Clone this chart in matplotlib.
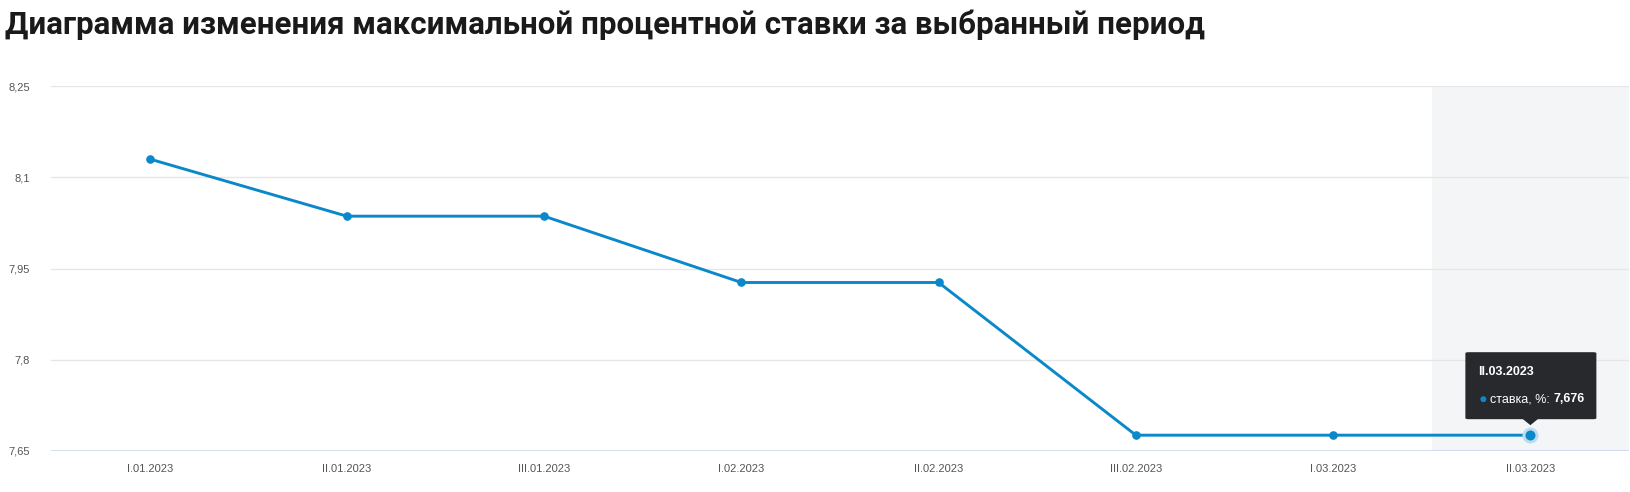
import matplotlib
matplotlib.use("Agg")
import matplotlib.pyplot as plt
from matplotlib.patches import FancyBboxPatch, Polygon, Circle

categories = ["I.01.2023", "II.01.2023", "III.01.2023", "I.02.2023",
              "II.02.2023", "III.02.2023", "I.03.2023", "II.03.2023"]
rates = [8.13, 8.036, 8.036, 7.927, 7.927, 7.676, 7.676, 7.676]
y_ticks = [7.65, 7.8, 7.95, 8.1, 8.25]
y_tick_labels = ["7,65", "7,8", "7,95", "8,1", "8,25"]
title = "Диаграмма изменения максимальной процентной ставки за выбранный период"
series_name = "ставка, %"
hover_index = 7

W, H = 1630, 492
DPI = 100
plt.rcParams['font.family'] = ['Liberation Sans', 'DejaVu Sans']
fig = plt.figure(figsize=(W / DPI, H / DPI), dpi=DPI)
fig.patch.set_facecolor('white')

ax = fig.add_axes([51 / W, (H - 451) / H, (1629 - 51) / W, (451 - 86) / H])
ax.set_facecolor('white')
x = list(range(len(categories)))
ax.set_xlim(-0.5, len(categories) - 0.5)
ax.set_ylim(7.65, 8.25)

line_color = '#0b88c9'
ax.axvspan(hover_index - 0.5, hover_index + 0.5, color='#f4f5f6', zorder=0, lw=0)
for yt in y_ticks[1:]:
    ax.axhline(yt, color='#e6e6e6', lw=1, zorder=1)
ax.axhline(y_ticks[0], color='#ccd6eb', lw=1.2, zorder=1)

ax.plot(x, rates, color=line_color, lw=2.1, marker='o', ms=5.2, zorder=3,
        solid_capstyle='round')
ax.plot([x[hover_index]], [rates[hover_index]], marker='o', ms=11.5,
        mfc='#b9ddf1', mec='none', zorder=4, ls='none')
ax.plot([x[hover_index]], [rates[hover_index]], marker='o', ms=7.2,
        mfc=line_color, mec='none', zorder=5, ls='none')

for s in ax.spines.values():
    s.set_visible(False)
ax.set_yticks(y_ticks)
ax.set_yticklabels(y_tick_labels)
ax.set_xticks(x)
ax.set_xticklabels(categories)
ax.tick_params(axis='both', length=0, labelsize=8, labelcolor='#555555')
ax.tick_params(axis='y', pad=15)
ax.tick_params(axis='x', pad=9)

fig.text(5 / W, 1 - 25 / H, title, fontsize=22.5, fontweight='bold',
         color='#1a1a1a', va='center', ha='left', family=['Roboto', 'DejaVu Sans'])

# tooltip
px, py = ax.transData.transform((x[hover_index], rates[hover_index]))
def fx(v):
    return v / W
def fy(v):
    return v / H
box = FancyBboxPatch((fx(px - 65), fy(py + 16)), fx(131), fy(67),
                     boxstyle="round,pad=0,rounding_size=0.002",
                     transform=fig.transFigure, facecolor='#27292d',
                     edgecolor='none', zorder=10)
fig.patches.append(box)
tri = Polygon([(fx(px - 8), fy(py + 16.5)), (fx(px + 8), fy(py + 16.5)),
               (fx(px), fy(py + 10))], closed=True, transform=fig.transFigure,
              facecolor='#27292d', edgecolor='none', zorder=10)
fig.patches.append(tri)
fig.text(fx(px - 52), fy(py + 63), categories[hover_index], color='white',
         fontsize=9, fontweight='bold', va='center', ha='left', zorder=11)
dot = Circle((px - 47, py + 36), 3, transform=None, facecolor=line_color,
             edgecolor='none', zorder=11)
fig.patches.append(dot)
t1 = fig.text(fx(px - 40), fy(py + 36), series_name + ": ", color='white',
              fontsize=9, va='center', ha='left', zorder=11)
fig.canvas.draw()
bb = t1.get_window_extent(renderer=fig.canvas.get_renderer())
val_text = f"{rates[hover_index]:.3f}".replace('.', ',')
fig.text(fx(bb.x1), fy(py + 36), val_text, color='white', fontsize=9,
         fontweight='bold', va='center', ha='left', zorder=11)

fig.savefig("out.png", dpi=DPI, facecolor='white')
